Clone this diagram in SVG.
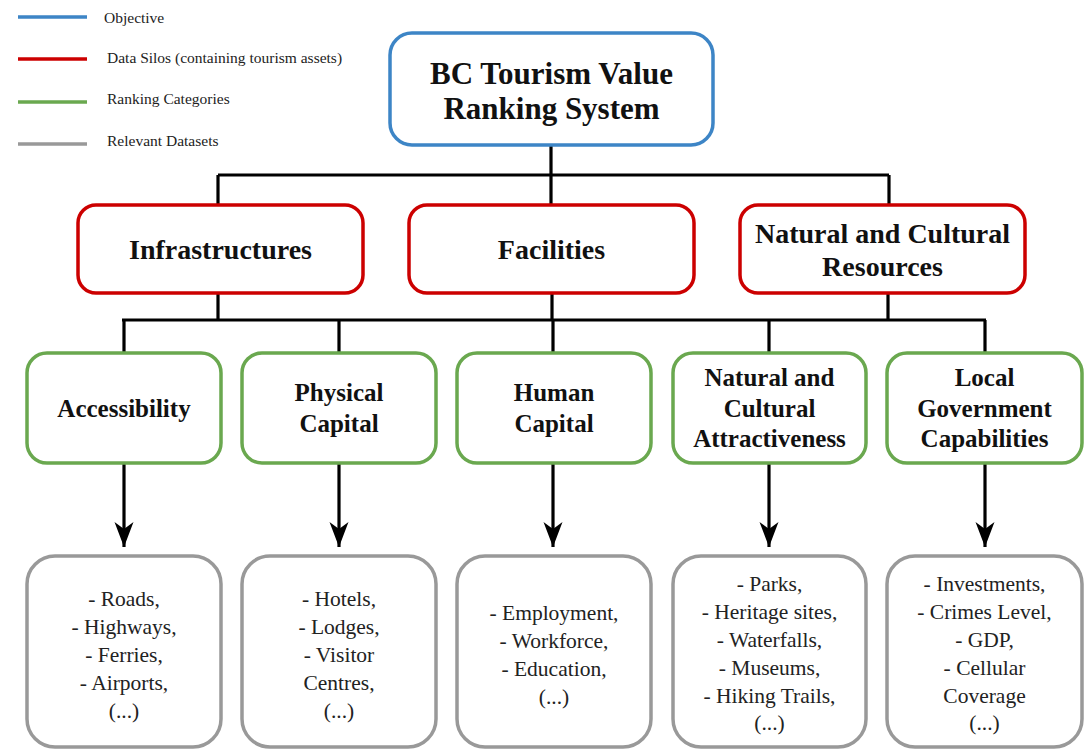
<svg xmlns="http://www.w3.org/2000/svg" width="1092" height="750" viewBox="0 0 1092 750">
  <defs>
    <style>
      .legend-line { stroke-width: 3.5; fill: none; }
      .legend-text { font-size: 15.5px; fill: #222; }
      .box { fill: #fff; stroke-width: 3.5; }
      .objective { stroke: #3d85c6; }
      .silo { stroke: #cc0000; }
      .category { stroke: #6aa84f; }
      .dataset { stroke: #999999; }
      .title { font-weight: bold; fill: #111; text-anchor: middle; }
      .t-obj { font-size: 31px; }
      .t-silo { font-size: 28px; }
      .t-cat { font-size: 25px; }
      .t-data { font-size: 21.5px; fill: #222; text-anchor: middle; }
      .wire { stroke: #000; stroke-width: 3.2; fill: none; }
    </style>
    <!-- barbed arrowhead, drawn pointing along +x -->
    <marker id="arrowhead" viewBox="0 0 25 20" refX="25" refY="10" markerWidth="25" markerHeight="20" markerUnits="userSpaceOnUse" orient="auto">
      <path d="M0,0.5 L7,10 L0,19.5 L25,10 Z" fill="#000"/>
    </marker>
  </defs>

  <rect width="1092" height="750" fill="#fff"/>

  <g font-family="'Liberation Serif', 'DejaVu Serif', serif">
  <!-- legend -->
  <g id="legend">
    <line class="legend-line" x1="18" y1="17" x2="87" y2="17" stroke="#3d85c6"/>
    <text class="legend-text" x="104" y="23">Objective</text>
    <line class="legend-line" x1="18" y1="59" x2="87" y2="59" stroke="#cc0000"/>
    <text class="legend-text" x="107" y="63">Data Silos (containing tourism assets)</text>
    <line class="legend-line" x1="18" y1="102" x2="87" y2="102" stroke="#6aa84f"/>
    <text class="legend-text" x="107" y="104">Ranking Categories</text>
    <line class="legend-line" x1="18" y1="144" x2="87" y2="144" stroke="#999999"/>
    <text class="legend-text" x="107" y="146">Relevant Datasets</text>
  </g>

  <!-- connectors -->
  <g id="connectors">
    <path class="wire" d="M551,145 V175 M218,175 H889 M218,175 V205 M551,175 V205 M889,175 V205"/>
    <path class="wire" d="M218,293 V320 M552,293 V320 M888,293 V320 M122,320 H986"/>
    <path class="wire" d="M124,320 V353 M339,320 V353 M553,320 V353 M769,320 V353 M985,320 V353"/>
    <line class="wire" x1="124" y1="463" x2="124" y2="547" marker-end="url(#arrowhead)"/>
    <line class="wire" x1="339" y1="463" x2="339" y2="547" marker-end="url(#arrowhead)"/>
    <line class="wire" x1="553" y1="463" x2="553" y2="547" marker-end="url(#arrowhead)"/>
    <line class="wire" x1="769" y1="463" x2="769" y2="547" marker-end="url(#arrowhead)"/>
    <line class="wire" x1="985" y1="463" x2="985" y2="547" marker-end="url(#arrowhead)"/>
  </g>

  <!-- objective -->
  <g id="node-objective">
    <rect class="box objective" x="390" y="33" width="323" height="112" rx="22"/>
    <text class="title t-obj" x="551.5" y="84">BC Tourism Value</text>
    <text class="title t-obj" x="551.5" y="119">Ranking System</text>
  </g>

  <!-- data silos -->
  <g id="node-infrastructures">
    <rect class="box silo" x="78" y="205" width="285" height="88" rx="18"/>
    <text class="title t-silo" x="220.5" y="259">Infrastructures</text>
  </g>
  <g id="node-facilities">
    <rect class="box silo" x="409" y="205" width="285" height="88" rx="18"/>
    <text class="title t-silo" x="551.5" y="259">Facilities</text>
  </g>
  <g id="node-resources">
    <rect class="box silo" x="740" y="205" width="285" height="88" rx="18"/>
    <text class="title t-silo" x="882.5" y="243">Natural and Cultural</text>
    <text class="title t-silo" x="882.5" y="276">Resources</text>
  </g>

  <!-- ranking categories -->
  <g id="node-accessibility">
    <rect class="box category" x="27" y="353" width="194" height="110" rx="20"/>
    <text class="title t-cat" x="124" y="417">Accessibility</text>
  </g>
  <g id="node-physical-capital">
    <rect class="box category" x="242" y="353" width="194" height="110" rx="20"/>
    <text class="title t-cat" x="339" y="401">Physical</text>
    <text class="title t-cat" x="339" y="432">Capital</text>
  </g>
  <g id="node-human-capital">
    <rect class="box category" x="457" y="353" width="194" height="110" rx="20"/>
    <text class="title t-cat" x="554" y="401">Human</text>
    <text class="title t-cat" x="554" y="432">Capital</text>
  </g>
  <g id="node-attractiveness">
    <rect class="box category" x="673" y="353" width="193" height="110" rx="20"/>
    <text class="title t-cat" x="769.5" y="386">Natural and</text>
    <text class="title t-cat" x="769.5" y="417">Cultural</text>
    <text class="title t-cat" x="769.5" y="447">Attractiveness</text>
  </g>
  <g id="node-local-government">
    <rect class="box category" x="887" y="353" width="195" height="110" rx="20"/>
    <text class="title t-cat" x="984.5" y="386">Local</text>
    <text class="title t-cat" x="984.5" y="417">Government</text>
    <text class="title t-cat" x="984.5" y="447">Capabilities</text>
  </g>

  <!-- relevant datasets -->
  <g id="node-datasets-accessibility">
    <rect class="box dataset" x="27" y="556" width="194" height="191" rx="28"/>
    <text class="t-data" x="124" y="606">- Roads,</text>
    <text class="t-data" x="124" y="634">- Highways,</text>
    <text class="t-data" x="124" y="662">- Ferries,</text>
    <text class="t-data" x="124" y="690">- Airports,</text>
    <text class="t-data" x="124" y="718">(...)</text>
  </g>
  <g id="node-datasets-physical">
    <rect class="box dataset" x="242" y="556" width="194" height="191" rx="28"/>
    <text class="t-data" x="339" y="606">- Hotels,</text>
    <text class="t-data" x="339" y="634">- Lodges,</text>
    <text class="t-data" x="339" y="662">- Visitor</text>
    <text class="t-data" x="339" y="690">Centres,</text>
    <text class="t-data" x="339" y="718">(...)</text>
  </g>
  <g id="node-datasets-human">
    <rect class="box dataset" x="457" y="556" width="194" height="191" rx="28"/>
    <text class="t-data" x="554" y="620">- Employment,</text>
    <text class="t-data" x="554" y="648">- Workforce,</text>
    <text class="t-data" x="554" y="676">- Education,</text>
    <text class="t-data" x="554" y="704">(...)</text>
  </g>
  <g id="node-datasets-attractiveness">
    <rect class="box dataset" x="673" y="556" width="193" height="191" rx="28"/>
    <text class="t-data" x="769.5" y="591">- Parks,</text>
    <text class="t-data" x="769.5" y="619">- Heritage sites,</text>
    <text class="t-data" x="769.5" y="647">- Waterfalls,</text>
    <text class="t-data" x="769.5" y="675">- Museums,</text>
    <text class="t-data" x="769.5" y="703">- Hiking Trails,</text>
    <text class="t-data" x="769.5" y="730">(...)</text>
  </g>
  <g id="node-datasets-government">
    <rect class="box dataset" x="887" y="556" width="195" height="191" rx="28"/>
    <text class="t-data" x="984.5" y="591">- Investments,</text>
    <text class="t-data" x="984.5" y="619">- Crimes Level,</text>
    <text class="t-data" x="984.5" y="647">- GDP,</text>
    <text class="t-data" x="984.5" y="675">- Cellular</text>
    <text class="t-data" x="984.5" y="703">Coverage</text>
    <text class="t-data" x="984.5" y="730">(...)</text>
  </g>
  </g>
</svg>
